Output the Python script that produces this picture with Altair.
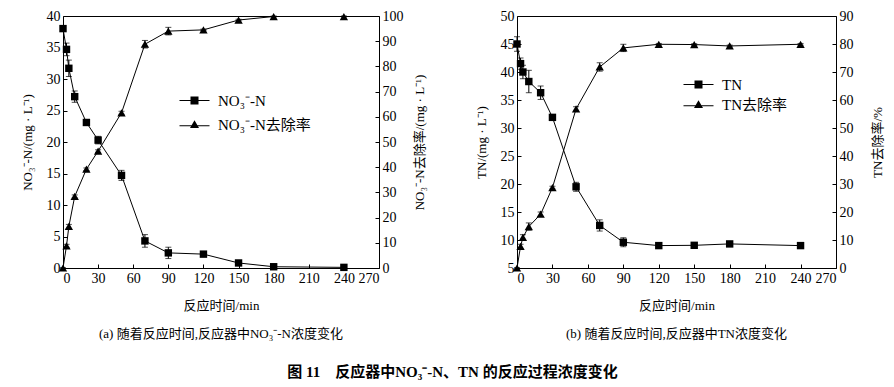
import altair as alt
import pandas as pd

# ---------------- data ----------------
time = [0, 3, 5, 10, 20, 30, 50, 70, 90, 120, 150, 180, 240]

no3 = [38.0, 34.7, 31.7, 27.2, 23.1, 20.3, 14.7, 4.3, 2.4, 2.2, 0.8, 0.2, 0.1]
no3_err = [0.3, 1.0, 1.3, 0.9, 0.3, 0.6, 0.8, 1.0, 0.9, 0.2, 0.1, 0.1, 0.1]
no3_rem = [0.0, 8.8, 16.5, 28.4, 39.2, 46.4, 61.6, 88.8, 94.0, 94.5, 98.4, 99.8, 99.8]
no3_rem_err = [0.0, 0.6, 0.8, 0.6, 0.5, 0.5, 0.6, 1.5, 1.5, 0.3, 0.3, 0.2, 0.2]

tn = [45.0, 41.5, 40.0, 38.3, 36.3, 31.9, 19.5, 12.6, 9.6, 9.0, 9.05, 9.3, 9.0]
tn_err = [1.3, 1.0, 1.2, 2.0, 1.2, 0.4, 0.8, 1.0, 0.8, 0.2, 0.2, 0.2, 0.2]
tn_rem = [0.0, 7.7, 10.9, 14.8, 19.2, 28.7, 56.8, 71.8, 78.6, 79.9, 79.8, 79.3, 79.9]
tn_rem_err = [0.0, 0.8, 1.0, 1.3, 0.8, 0.5, 0.8, 1.5, 1.3, 0.3, 0.3, 0.3, 0.3]

x_ticks = [0, 30, 60, 90, 120, 150, 180, 210, 240, 270]

names_a = ["NO₃⁻-N", "NO₃⁻-N去除率"]
names_b = ["TN", "TN去除率"]

cap_a = "(a) 随着反应时间,反应器中NO₃⁻-N浓度变化"
cap_b = "(b) 随着反应时间,反应器中TN浓度变化"
main_title = "图 11　反应器中NO₃⁻-N、TN 的反应过程浓度变化"

FONT = "Liberation Serif, Noto Sans CJK SC"
# legend glyphs: a thin filled bar (the line) plus the marker
SQ_PATH = "M-3,-0.1H3V0.1H-3Z M-0.8,-0.8H0.8V0.8H-0.8Z"
TRI_PATH = "M-3,0.15H3V0.35H-3Z M0,-0.85L0.9,0.7L-0.9,0.7Z"

TICK = 4  # inward tick length


def frame(t, v, e):
    return pd.DataFrame({
        "t": t, "v": v,
        "lo": [a - b for a, b in zip(v, e)],
        "hi": [a + b for a, b in zip(v, e)],
    })


def series(df, domain, axis, shape, msize):
    xenc = alt.X("t:Q", scale=alt.Scale(domain=[0, 270], nice=False),
                 axis=alt.Axis(values=x_ticks, title="反应时间/min", tickSize=TICK,
                               offset=-TICK, domain=False,
                               labelPadding=3, titlePadding=14))
    ysc = alt.Scale(domain=domain, nice=False, zero=False)
    base = alt.Chart(df).encode(x=xenc)
    line = base.mark_line(color="black", strokeWidth=1).encode(
        y=alt.Y("v:Q", scale=ysc, axis=axis))
    rule = base.mark_rule(color="black", strokeWidth=1).encode(
        y=alt.Y("lo:Q", scale=ysc, axis=axis), y2="hi:Q")
    cap_lo = base.mark_tick(orient="horizontal", size=6, thickness=1, color="black").encode(
        y=alt.Y("lo:Q", scale=ysc, axis=axis))
    cap_hi = base.mark_tick(orient="horizontal", size=6, thickness=1, color="black").encode(
        y=alt.Y("hi:Q", scale=ysc, axis=axis))
    pts = base.mark_point(shape=shape, filled=True, size=msize, color="black", opacity=1).encode(
        y=alt.Y("v:Q", scale=ysc, axis=axis))
    return alt.layer(line, rule, cap_lo, cap_hi, pts)


def panel(c, ce, r, re, cdom, cvals, ctitle, rdom, rvals, rtitle, names, caption,
          w, lx, ly, rowpad, rpad):
    left_axis = alt.Axis(values=cvals, title=ctitle, orient="left", tickSize=TICK,
                         offset=-TICK, domain=False,
                         labelPadding=3, titlePadding=12)
    right_axis = alt.Axis(values=rvals, title=rtitle, orient="right", tickSize=TICK,
                          offset=-TICK, domain=False,
                          labelPadding=3, titlePadding=rpad, titleAngle=270,
                          titleBaseline="top")
    conc = series(frame(time, c, ce), cdom, left_axis, "square", 55)
    rem = series(frame(time, r, re), rdom, right_axis, "triangle-up", 70)
    leg = alt.Chart(pd.DataFrame({"s": names})).transform_filter("false").mark_point(
        filled=True, color="black", opacity=1
    ).encode(
        shape=alt.Shape("s:N", scale=alt.Scale(domain=names, range=[SQ_PATH, TRI_PATH]),
                        legend=alt.Legend(orient="none", legendX=lx, legendY=ly, title=None,
                                          symbolSize=100, labelOffset=16, rowPadding=rowpad,
                                          symbolFillColor="black", symbolStrokeWidth=0,
                                          labelFontSize=15, labelFont=FONT, padding=0))
    )
    return alt.layer(conc, rem, leg).resolve_scale(y="independent").properties(
        width=w, height=252,
        title=alt.TitleParams(caption, orient="bottom", fontSize=13, font=FONT,
                              fontWeight="normal", offset=16, anchor="middle"))


pa = panel(no3, no3_err, no3_rem, no3_rem_err, [0, 40], list(range(0, 41, 5)),
           "NO₃⁻-N/(mg · L⁻¹)", [0, 100], list(range(0, 101, 10)),
           "NO₃⁻-N去除率/(mg · L⁻¹)", names_a, cap_a, 316, 124, 77, 8, 10)
pb = panel(tn, tn_err, tn_rem, tn_rem_err, [5, 50], list(range(5, 51, 5)),
           "TN/(mg · L⁻¹)", [0, 90], list(range(0, 91, 10)),
           "TN去除率/%", names_b, cap_b, 319, 174, 61, 4, 18)

chart = alt.hconcat(pa, pb, spacing=47).resolve_scale(shape="independent").resolve_legend(
    shape="independent"
).properties(
    title=alt.TitleParams(main_title, orient="bottom", fontSize=15, font=FONT,
                          fontWeight="bold", offset=23, anchor="middle"),
    padding={"left": 12, "top": 0, "right": 0, "bottom": 2},
    background="white",
).configure_view(stroke="black", strokeWidth=1).configure_axis(
    labelFont=FONT, titleFont=FONT, labelFontSize=14, titleFontSize=13,
    labelColor="black", titleColor="black", titleFontWeight="normal",
    domainColor="black", tickColor="black", grid=False,
)

chart.save("out.html", embed_options={"renderer": "svg", "actions": False})
